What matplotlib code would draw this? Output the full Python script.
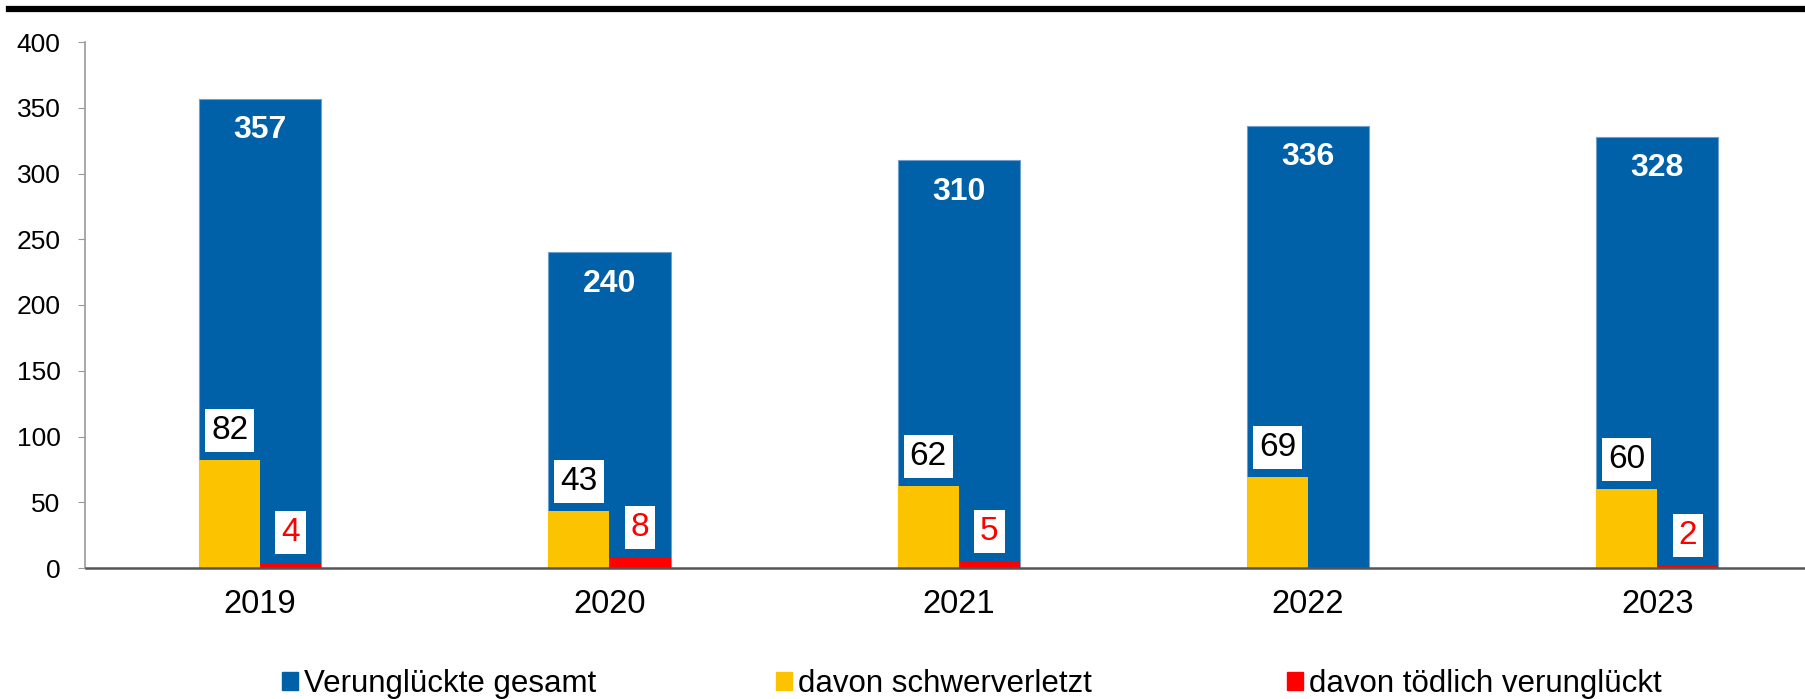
import matplotlib
matplotlib.use("Agg")
import matplotlib.pyplot as plt
from matplotlib.lines import Line2D
from matplotlib.patches import Patch
import numpy as np

plt.rcParams['font.family'] = ['Liberation Sans', 'DejaVu Sans']

years = ["2019", "2020", "2021", "2022", "2023"]
gesamt = [357, 240, 310, 336, 328]
schwer = [82, 43, 62, 69, 60]
toedlich = [4, 8, 5, 0, 2]

c_blue = "#0060A8"
c_yellow = "#FBC300"
c_red = "#FF0000"

W, H = 1806, 699
fig = plt.figure(figsize=(W/100, H/100), dpi=100)
ax = fig.add_axes([85.5/W, (H-568)/H, (1832-85.5)/W, 526/H])

x = np.arange(len(years))
bw = 0.35
ax.bar(x, gesamt, width=bw, color=c_blue, edgecolor="#6f9fcf", linewidth=0.8, zorder=2)
ax.bar(x - bw/4, schwer, width=bw/2, color=c_yellow, edgecolor="none", zorder=3)
ax.bar(x + bw/4, toedlich, width=bw/2, color=c_red, edgecolor="none", zorder=3)

for xi, v in zip(x, gesamt):
    ax.annotate(str(v), (xi, v), xytext=(0, -22.5), textcoords="offset points",
                ha="center", va="center", color="white", fontsize=23, fontweight="bold", zorder=5)
for xi, v in zip(x, schwer):
    ax.annotate(str(v), (xi - bw/4, v), xytext=(0, 21.5), textcoords="offset points",
                ha="center", va="center", color="black", fontsize=24, zorder=5,
                bbox=dict(boxstyle="square,pad=0.18", fc="white", ec="none"))
for xi, v in zip(x, toedlich):
    if v > 0:
        ax.annotate(str(v), (xi + bw/4, v), xytext=(0, 21.5), textcoords="offset points",
                    ha="center", va="center", color=c_red, fontsize=24, zorder=5,
                    bbox=dict(boxstyle="square,pad=0.18", fc="white", ec="none"))

ax.set_xlim(-0.5, len(years) - 0.5)
ax.set_ylim(0, 400)
ax.set_yticks(range(0, 401, 50))
ax.set_xticks(x)
ax.set_xticklabels(years, fontsize=23.5)
ax.tick_params(axis="y", labelsize=19, length=5, color="#999999", direction="out", pad=13)
ax.tick_params(axis="x", length=0, pad=15)
for s in ["top", "right"]:
    ax.spines[s].set_visible(False)
ax.spines["left"].set_color("#999999")
ax.spines["left"].set_linewidth(1.2)
ax.spines["bottom"].set_color("#555555")
ax.spines["bottom"].set_linewidth(1.8)
ax.spines["bottom"].set_zorder(4)

# top rule
fig.add_artist(Line2D([9/W, 1.0], [1 - 9/H, 1 - 9/H], transform=fig.transFigure,
                      color="black", linewidth=4.5))

labels = ["Verunglückte gesamt", "davon schwerverletzt", "davon tödlich verunglückt"]
colors = [c_blue, c_yellow, c_red]
leg_x = [282, 776, 1287]
for lab, col, lx in zip(labels, colors, leg_x):
    lg = fig.legend([Patch(color=col)], [lab], loc="center left",
                    bbox_to_anchor=(lx/W, 1 - 684/H), frameon=False, fontsize=22.5,
                    handlelength=0.52, handleheight=0.52, handletextpad=0.2,
                    borderpad=0, borderaxespad=0)

fig.savefig("out.png", dpi=100)
